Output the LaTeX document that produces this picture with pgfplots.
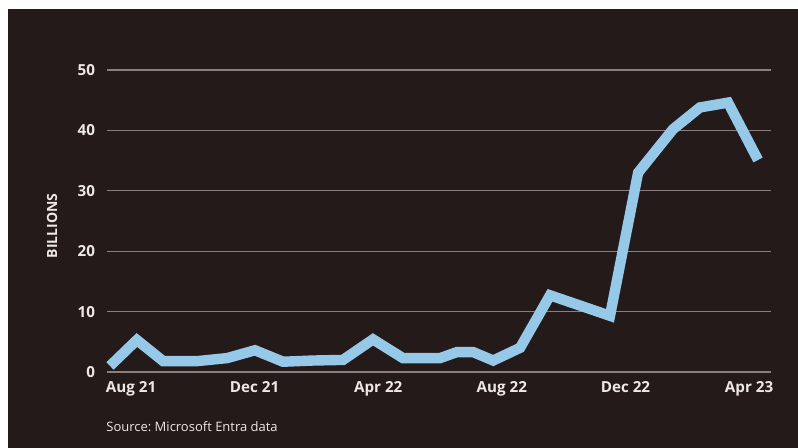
\documentclass[border=0pt]{standalone}
\usepackage{fontspec}
\setmainfont{Open Sans}
\usepackage{pgfplots}
\pgfplotsset{compat=1.18}
\definecolor{bg}{HTML}{241A19}
\definecolor{lineblue}{HTML}{96C8E8}
\definecolor{gridc}{HTML}{8C7E7A}
\definecolor{txt}{HTML}{EDE8E4}
\begin{document}
\begin{tikzpicture}[x=1pt,y=1pt]
\fill[white] (0,0) rectangle (399,224);
\fill[bg] (4,0) rectangle (399,219.5);
\begin{axis}[
  at={(53.5pt,38pt)}, anchor=south west,
  scale only axis, width=332pt, height=151pt,
  xmin=-0.777, xmax=20.71, ymin=0, ymax=50,
  axis line style={draw=none},
  major tick style={draw=none},
  ymajorgrids, grid style={gridc, line width=0.6pt},
  ytick={0,10,20,30,40,50},
  xtick={0,4,8,12,16,20},
  xticklabels={Aug 21,Dec 21,Apr 22,Aug 22,Dec 22,Apr 23},
  /pgf/number format/assume math mode=true,
  ticklabel style={font=\fontsize{7.6}{9}\selectfont\bfseries, text=txt},
  yticklabel style={xshift=-2.5pt},
  xticklabel style={yshift=-1pt},
  clip=false,
]
\addplot[lineblue, line width=5.2pt, line join=miter, line cap=butt] coordinates {
(-0.68,1.0) (0.19,5.3) (1.04,1.8) (2.14,1.8) (3.11,2.3) (4.01,3.6)
(4.92,1.7) (5.89,1.9) (6.86,2.0) (7.83,5.4) (8.80,2.3) (10.0,2.3)
(10.55,3.3) (11.07,3.3) (11.72,1.9) (12.59,4.0) (13.56,12.7) (15.50,9.3)
(16.41,33.0) (17.54,40.2) (18.41,43.8) (19.32,44.6) (20.29,35.1)
};
\end{axis}
\node[rotate=90, text=txt, font=\fontsize{7}{8}\selectfont\bfseries] at (26,111) {BILLIONS};
\node[anchor=west, text=txt, font=\fontsize{6.5}{7.5}\selectfont, inner sep=0pt] at (53,10.5) {Source:~Microsoft Entra data};
\end{tikzpicture}
\end{document}
